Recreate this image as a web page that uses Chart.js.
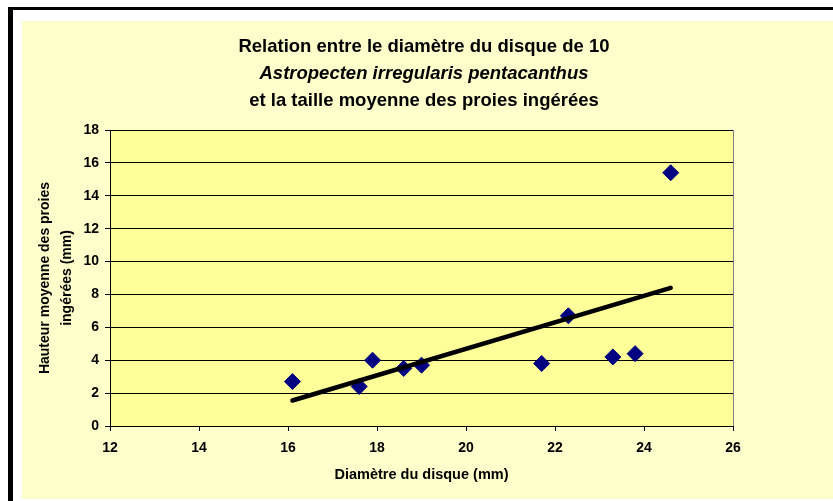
<!DOCTYPE html>
<html>
<head>
<meta charset="utf-8">
<script src="https://cdn.jsdelivr.net/npm/chart.js@4/dist/chart.umd.min.js"></script>
<style>
  body { margin: 0; background: #fff; width: 833px; height: 501px; overflow: hidden; position: relative; }
  #frame { position: absolute; left: 8px; top: 7px; width: 830px; height: 500px; border-left: 5px solid #000; border-top: 3px solid #000; }
  #wrap { position: absolute; left: 22px; top: 21px; width: 811px; height: 478px; background: #FFFFCC; }
</style>
</head>
<body>
<div id="frame"></div>
<div id="wrap"><canvas id="scatterChart" width="811" height="478"></canvas></div>
<script>
// données
var diametre = [16.1, 17.6, 17.9, 18.6, 19.0, 21.7, 22.3, 23.3, 23.8, 24.6];
var hauteur = [2.7, 2.4, 4.0, 3.5, 3.7, 3.8, 6.7, 4.2, 4.4, 15.4];
// droite de tendance (extrémités lues)
var tendanceX = [16.1, 24.6];
var tendanceY = [1.55, 8.4];

var titreLignes = [
  { text: 'Relation entre le diamètre du disque de 10', style: 'bold' },
  { text: 'Astropecten irregularis pentacanthus', style: 'italic bold' },
  { text: 'et la taille moyenne des proies ingérées', style: 'bold' }
];

Chart.defaults.font.family = '"Liberation Sans", Arial, sans-serif';
Chart.defaults.color = '#000';

var points = diametre.map(function (d, i) { return { x: d, y: hauteur[i] }; });
var tendance = tendanceX.map(function (d, i) { return { x: d, y: tendanceY[i] }; });

// fond de la zone de tracé + titre sur 3 lignes
var decor = {
  id: 'decor',
  beforeDraw: function (chart) {
    var a = chart.chartArea, c = chart.ctx;
    c.save();
    c.fillStyle = '#FFFF99';
    c.fillRect(a.left, a.top, a.right - a.left, a.bottom - a.top);
    c.restore();
  },
  afterDraw: function (chart) {
    var a = chart.chartArea, c = chart.ctx;
    c.save();
    c.strokeStyle = '#808080';
    c.lineWidth = 1;
    c.beginPath();
    c.moveTo(a.right + 0.5, a.top);
    c.lineTo(a.right + 0.5, a.bottom);
    c.stroke();
    c.fillStyle = '#000';
    c.textAlign = 'center';
    c.textBaseline = 'middle';
    titreLignes.forEach(function (l, i) {
      c.font = l.style + ' 18.5px "Liberation Sans", Arial, sans-serif';
      c.fillText(l.text, 402, 26 + i * 27);
    });
    c.restore();
  }
};

var ctx = document.getElementById('scatterChart').getContext('2d');
var chart = new Chart(ctx, {
  type: 'scatter',
  data: {
    datasets: [{
      data: points,
      pointStyle: 'rectRot',
      pointRadius: 8,
      pointHoverRadius: 8,
      backgroundColor: '#000080',
      borderColor: '#000080',
      borderWidth: 1,
      order: 1
    }, {
      type: 'line',
      data: tendance,
      borderColor: '#000',
      borderWidth: 4.5,
      borderCapStyle: 'round',
      pointRadius: 0,
      fill: false,
      order: 0
    }]
  },
  options: {
    responsive: false,
    animation: false,
    layout: { padding: { left: 0, right: 100, top: 109, bottom: 0 } },
    plugins: { legend: { display: false }, tooltip: { enabled: false } },
    scales: {
      x: {
        type: 'linear',
        min: 12, max: 26,
        ticks: { stepSize: 2, font: { size: 14, weight: 'bold' }, padding: 9 },
        grid: { drawOnChartArea: false, color: '#000', tickLength: 5 },
        border: { color: '#000' },
        title: { display: true, text: 'Diamètre du disque (mm)', font: { size: 14.5, weight: 'bold' }, padding: { top: 4, bottom: 15 } },
        afterFit: function (s) { s.height = 73; }
      },
      y: {
        min: 0, max: 18,
        ticks: { stepSize: 2, font: { size: 14, weight: 'bold' }, padding: 6 },
        grid: { color: '#000', tickLength: 5 },
        border: { color: '#000' },
        title: {
          display: true,
          text: ['Hauteur moyenne des proies', 'ingérées (mm)'],
          font: { size: 14, weight: 'bold', lineHeight: 1.57 },
          padding: { top: 12, bottom: 0 }
        },
        afterFit: function (s) { s.width = 88; }
      }
    }
  },
  plugins: [decor]
});
</script>
</body>
</html>
